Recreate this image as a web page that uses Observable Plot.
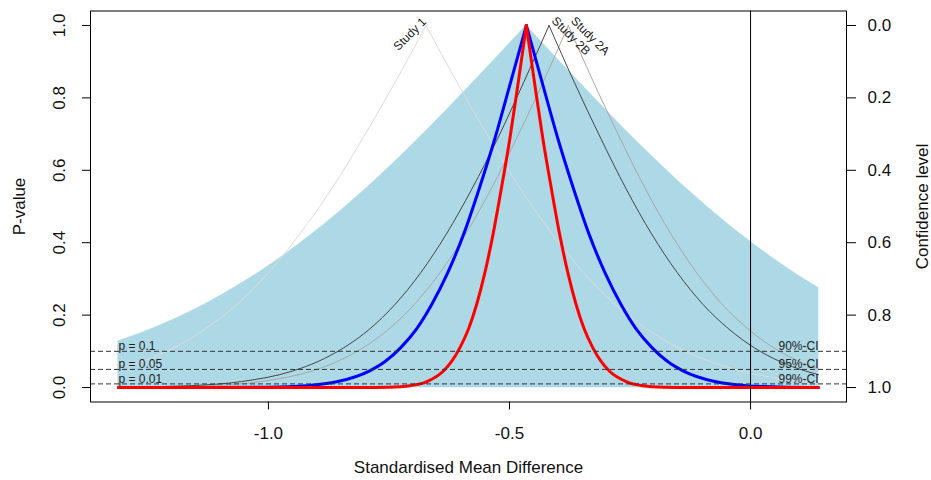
<!DOCTYPE html>
<html><head><meta charset="utf-8">
<script src="https://cdn.jsdelivr.net/npm/d3@7"></script>
<script src="https://cdn.jsdelivr.net/npm/@observablehq/plot@0.6"></script>
<style>body{margin:0;background:#fff} #chart{width:931px;height:480px}</style>
</head><body><div id="chart"></div>
<script>
// Tick labels and reference levels
const xTicks = [-1.0, -0.5, 0.0];
const pTicks = [0, 0.2, 0.4, 0.6, 0.8, 1.0];
const confTicks = [0.0, 0.2, 0.4, 0.6, 0.8, 1.0];
const refP = [0.1, 0.05, 0.01];
const refLeftLabels = ["p = 0.1", "p = 0.05", "p = 0.01"];
const refRightLabels = ["90%-CI", "95%-CI", "99%-CI"];
const studyNames = ["Study 1", "Study 2A", "Study 2B"];
const studyPeakX = [-0.673, -0.378, -0.418];

// Prediction region p-value curve (shaded)
const predX = [-1.311, -1.242, -1.131, -1.020, -0.909, -0.798, -0.687, -0.576, -0.465, -0.354, -0.243, -0.132, -0.021, 0.090, 0.141];
const predP = [0.1275, 0.1615, 0.2301, 0.3173, 0.4237, 0.5485, 0.6892, 0.8415, 1, 0.8415, 0.6892, 0.5485, 0.4237, 0.3173, 0.2748];

// Study 1
const s1X = [-1.311, -1.262, -1.196, -1.131, -1.065, -1.000, -0.935, -0.869, -0.804, -0.738, -0.673, -0.608, -0.542, -0.477, -0.411, -0.346, -0.281, -0.215, -0.150, -0.084, -0.019, 0.112, 0.141];
const s1P = [0.0512, 0.0719, 0.1096, 0.1615, 0.2301, 0.3173, 0.4237, 0.5485, 0.6892, 0.8415, 1, 0.8415, 0.6892, 0.5485, 0.4237, 0.3173, 0.2301, 0.1615, 0.1096, 0.0719, 0.0455, 0.0164, 0.0128];

// Study 2A
const s2aX = [-1.311, -1.256, -1.123, -1.016, -0.910, -0.857, -0.804, -0.750, -0.697, -0.644, -0.591, -0.538, -0.485, -0.431, -0.378, -0.325, -0.271, -0.218, -0.165, -0.112, -0.059, -0.005, 0.048, 0.101, 0.141];
const s2aP = [0.0005, 0.0010, 0.0051, 0.0164, 0.0455, 0.0719, 0.1096, 0.1615, 0.2301, 0.3173, 0.4237, 0.5485, 0.6892, 0.8415, 1, 0.8415, 0.6892, 0.5485, 0.4237, 0.3173, 0.2301, 0.1615, 0.1096, 0.0719, 0.0512];

// Study 2B
const s2bX = [-1.311, -1.296, -1.163, -1.056, -0.950, -0.897, -0.844, -0.790, -0.737, -0.684, -0.631, -0.578, -0.524, -0.471, -0.418, -0.365, -0.311, -0.258, -0.205, -0.152, -0.099, -0.045, 0.008, 0.061, 0.114, 0.141];
const s2bP = [0.0008, 0.0010, 0.0051, 0.0164, 0.0455, 0.0719, 0.1096, 0.1615, 0.2301, 0.3173, 0.4237, 0.5485, 0.6892, 0.8415, 1, 0.8415, 0.6892, 0.5485, 0.4237, 0.3173, 0.2301, 0.1615, 0.1096, 0.0719, 0.0455, 0.0356];

// Random effects (blue)
const reX = [-1.311, -1.117, -1.003, -0.921, -0.856, -0.791, -0.758, -0.726, -0.693, -0.661, -0.628, -0.595, -0.563, -0.530, -0.498, -0.465, -0.432, -0.400, -0.367, -0.335, -0.302, -0.269, -0.237, -0.204, -0.172, -0.139, -0.074, -0.009, 0.073, 0.141];
const reP = [0, 0.0001, 0.0010, 0.0051, 0.0164, 0.0455, 0.0719, 0.1096, 0.1615, 0.2301, 0.3173, 0.4237, 0.5485, 0.6892, 0.8415, 1, 0.8415, 0.6892, 0.5485, 0.4237, 0.3173, 0.2301, 0.1615, 0.1096, 0.0719, 0.0455, 0.0164, 0.0051, 0.0010, 0.0002];

// Common (fixed) effect (red)
const feX = [-1.311, -0.809, -0.749, -0.706, -0.671, -0.637, -0.620, -0.603, -0.585, -0.568, -0.551, -0.534, -0.517, -0.499, -0.482, -0.465, -0.448, -0.431, -0.413, -0.396, -0.379, -0.362, -0.345, -0.327, -0.310, -0.293, -0.258, -0.224, -0.181, -0.121, 0.141];
const feP = [0, 0.0001, 0.0010, 0.0051, 0.0164, 0.0455, 0.0719, 0.1096, 0.1615, 0.2301, 0.3173, 0.4237, 0.5485, 0.6892, 0.8415, 1, 0.8415, 0.6892, 0.5485, 0.4237, 0.3173, 0.2301, 0.1615, 0.1096, 0.0719, 0.0455, 0.0164, 0.0051, 0.0010, 0.0001, 0];

function halves(xs, ps) {
  const k = ps.indexOf(Math.max(...ps));
  const rows = [];
  xs.forEach((x, i) => {
    if (i <= k) rows.push({side: "L", x, p: ps[i]});
    if (i >= k) rows.push({side: "R", x, p: ps[i]});
  });
  return rows;
}

const font = "'Liberation Sans', Arial, sans-serif";
const axisFont = 17;
const labFont = 12;
const refRows = refP.map((p, i) => ({p, left: refLeftLabels[i], right: refRightLabels[i]}));
const studyRows = studyNames.map((name, i) => ({name, x: studyPeakX[i]}));
const lineOpts = {x: "x", y: "p", z: "side", curve: "monotone-x"};

const chart = Plot.plot({
  width: 931,
  height: 480,
  marginLeft: 90,
  marginRight: 85,
  marginTop: 10.5,
  marginBottom: 78.5,
  style: {fontFamily: font, background: "#fff"},
  x: {domain: [-1.369, 0.199]},
  y: {domain: [-0.04, 1.04]},
  marks: [
    Plot.areaY(halves(predX, predP), {x: "x", y1: 0, y2: "p", z: "side", curve: "monotone-x", fill: "#ADD8E6", stroke: "#ADD8E6", strokeWidth: 0.6}),
    Plot.line(halves(s1X, s1P), {...lineOpts, stroke: "#dcdcdc", strokeWidth: 1}),
    Plot.line(halves(s2aX, s2aP), {...lineOpts, stroke: "#a8a8a8", strokeWidth: 1}),
    Plot.line(halves(s2bX, s2bP), {...lineOpts, stroke: "#454545", strokeWidth: 1}),
    Plot.line(halves(reX, reP), {...lineOpts, stroke: "#0000ff", strokeWidth: 3}),
    Plot.line(halves(feX, feP), {...lineOpts, stroke: "#ff0000", strokeWidth: 3}),
    Plot.ruleY(refRows, {y: "p", stroke: "#333", strokeWidth: 1, strokeDasharray: "5,3"}),
    Plot.ruleX([0], {stroke: "#000", strokeWidth: 1}),
    Plot.text(refRows, {x: -1.311, y: "p", text: "left", textAnchor: "start", lineAnchor: "bottom", dy: -1, fontSize: labFont, fill: "#222"}),
    Plot.text(refRows, {x: 0.141, y: "p", text: "right", textAnchor: "end", lineAnchor: "bottom", dy: -1, fontSize: labFont, fill: "#222"}),
    Plot.text(studyRows.filter(d => d.name === "Study 1"), {x: "x", y: 1, text: "name", rotate: -45, textAnchor: "end", lineAnchor: "bottom", dx: 1, dy: -3, fontSize: labFont, fill: "#222"}),
    Plot.text(studyRows.filter(d => d.name !== "Study 1"), {x: "x", y: 1, text: "name", rotate: 45, textAnchor: "start", lineAnchor: "bottom", dx: 2, dy: -4, fontSize: labFont, fill: "#222"}),
    Plot.frame({stroke: "#000"}),
    Plot.axisX({ticks: xTicks, tickSize: 8, tickFormat: () => "", label: null}),
    Plot.axisY({anchor: "left", ticks: pTicks, tickSize: 8, tickFormat: () => "", label: null}),
    Plot.axisY({anchor: "right", ticks: confTicks.map(c => 1 - c), tickSize: 9, tickFormat: () => "", label: null}),
    Plot.text(xTicks, {x: d => d, frameAnchor: "bottom", dy: 32, text: d => d.toFixed(1), lineAnchor: "middle", fontSize: axisFont, fill: "#111"}),
    Plot.text(pTicks, {y: d => d, frameAnchor: "left", dx: -31, rotate: -90, text: d => d.toFixed(1), textAnchor: "middle", lineAnchor: "middle", fontSize: axisFont, fill: "#111"}),
    Plot.text(confTicks, {y: d => 1 - d, frameAnchor: "right", dx: 21, text: d => d.toFixed(1), textAnchor: "start", lineAnchor: "middle", fontSize: axisFont, fill: "#111"}),
    Plot.text(["P-value"], {frameAnchor: "left", dx: -71, rotate: -90, textAnchor: "middle", lineAnchor: "middle", fontSize: axisFont, fill: "#111"}),
    Plot.text(["Confidence level"], {frameAnchor: "right", dx: 76, rotate: -90, textAnchor: "middle", lineAnchor: "middle", fontSize: axisFont, fill: "#111"}),
    Plot.text(["Standardised Mean Difference"], {frameAnchor: "bottom", dy: 65.5, textAnchor: "middle", lineAnchor: "middle", fontSize: axisFont, fill: "#111"})
  ]
});
document.getElementById("chart").appendChild(chart);
</script>
</body></html>
